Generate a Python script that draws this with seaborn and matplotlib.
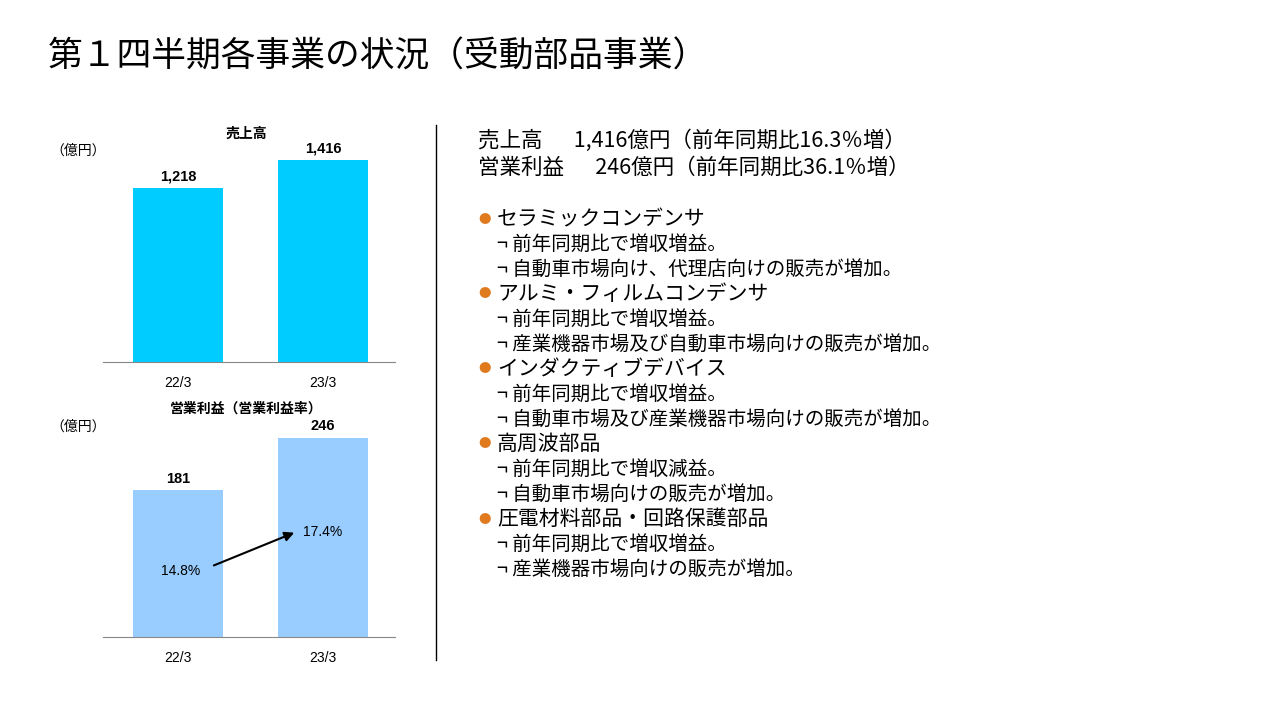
import matplotlib
matplotlib.use("Agg")
import matplotlib.pyplot as plt
import seaborn as sns
import pandas as pd

periods = ["22/3", "23/3"]
sales = [1218, 1416]
op_income = [181, 246]
op_margin = ["14.8%", "17.4%"]

title = "第１四半期各事業の状況（受動部品事業）"
summary = ["売上高　  1,416億円（前年同期比16.3％増）", "営業利益　  246億円（前年同期比36.1％増）"]
sections = [
    ("セラミックコンデンサ", ["前年同期比で増収増益。", "自動車市場向け、代理店向けの販売が増加。"]),
    ("アルミ・フィルムコンデンサ", ["前年同期比で増収増益。", "産業機器市場及び自動車市場向けの販売が増加。"]),
    ("インダクティブデバイス", ["前年同期比で増収増益。", "自動車市場及び産業機器市場向けの販売が増加。"]),
    ("高周波部品", ["前年同期比で増収減益。", "自動車市場向けの販売が増加。"]),
    ("圧電材料部品・回路保護部品", ["前年同期比で増収増益。", "産業機器市場向けの販売が増加。"]),
]

plt.rcParams["font.family"] = ["Noto Sans CJK JP"]
W, H = 1281, 720
fig = plt.figure(figsize=(W / 100, H / 100), dpi=100)

def ax_px(l, t, r, b):
    return fig.add_axes([l / W, 1 - b / H, (r - l) / W, (b - t) / H])

fig.text(48 / W, 1 - 57 / H, title, fontsize=25, va="center", ha="left")

def bar_chart(ax, vals, color, ymax):
    df = pd.DataFrame({"p": periods, "v": vals})
    sns.barplot(data=df, x="p", y="v", color=color, width=0.62, ax=ax, saturation=1)
    ax.set_xlim(-0.517, 1.497)
    ax.set_ylim(0, ymax)
    for s in ["top", "right", "left"]:
        ax.spines[s].set_visible(False)
    ax.spines["bottom"].set_color("#888888")
    ax.set_yticks([])
    ax.set_xlabel(""); ax.set_ylabel("")
    ax.tick_params(axis="x", length=0, pad=10, labelsize=10, labelfontfamily="Liberation Sans")
    for i, v in enumerate(vals):
        ax.text(i, v + ymax * 0.02, f"{v:,}", ha="center", va="bottom", fontsize=10.5,
                fontweight="bold", family="Liberation Sans")
    return ax

ax1 = ax_px(103, 130, 395, 362)
bar_chart(ax1, sales, "#00CCFF", 1626)
fig.text(246 / W, 1 - 134 / H, "売上高", fontsize=10, fontweight="bold", ha="center", va="center")
fig.text(50 / W, 1 - 151 / H, "（億円）", fontsize=10, ha="left", va="center")

ax2 = ax_px(103, 410, 395, 637)
bar_chart(ax2, op_income, "#99CCFF", 280)
fig.text(246 / W, 1 - 409 / H, "営業利益（営業利益率）", fontsize=10, fontweight="bold", ha="center", va="center")
fig.text(50 / W, 1 - 427 / H, "（億円）", fontsize=10, ha="left", va="center")
ax2.text(0.02, 82, op_margin[0], ha="center", va="center", fontsize=10, family="Liberation Sans")
ax2.text(1.0, 130, op_margin[1], ha="center", va="center", fontsize=10, family="Liberation Sans")
ax2.annotate("", xy=(0.82, 130), xytext=(0.23, 87),
             arrowprops=dict(arrowstyle="-|>", color="black", lw=1.5, mutation_scale=14))

fig.add_artist(plt.Line2D([436 / W, 436 / W], [1 - 125 / H, 1 - 660 / H], color="black", lw=1))

y = 141
for s in summary:
    fig.text(478 / W, 1 - y / H, s, fontsize=15.5, va="center", ha="left")
    y += 27
y = 219
for head, items in sections:
    fig.text(478 / W, 1 - y / H, "●", fontsize=9, color="#E07A1F", va="center", ha="left")
    fig.text(497 / W, 1 - y / H, head, fontsize=15, va="center", ha="left")
    y += 25
    for it in items:
        fig.text(497 / W, 1 - y / H, "¬ " + it, fontsize=14, va="center", ha="left")
        y += 25.5
    y -= 1

fig.savefig("out.png", dpi=100)
